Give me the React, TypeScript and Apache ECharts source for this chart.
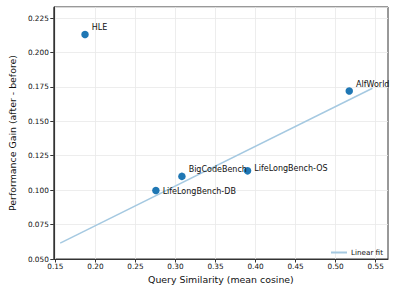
import React, { useEffect, useRef } from "react";
import * as echarts from "echarts";

const pointNames = ["HLE", "BigCodeBench", "LifeLongBench-DB", "LifeLongBench-OS", "AlfWorld"];
const pointX = [0.187, 0.308, 0.2755, 0.39, 0.517];
const pointY = [0.213, 0.110, 0.0997, 0.114, 0.172];
const labelDy = [-7, -7, 1, -2, -7];
const fitX = [0.156, 0.546];
const fitY = [0.0615, 0.174];
const xTicks = [0.15, 0.2, 0.25, 0.3, 0.35, 0.4, 0.45, 0.5, 0.55];

const FONT = "DejaVu Sans";
const TXT = "#111";

export default function App() {
  const ref = useRef<HTMLDivElement>(null);
  useEffect(() => {
    if (!ref.current) return;
    const chart = echarts.init(ref.current, null, { renderer: "svg" });
    const tickLabel = { fontFamily: FONT, fontSize: 7.3, color: TXT };
    chart.setOption({
      animation: false,
      backgroundColor: "#fff",
      grid: {
        left: 48,
        top: 7,
        width: 340,
        height: 252,
        show: true,
        borderColor: "#333",
        borderWidth: 1,
        backgroundColor: "transparent",
      },
      legend: {
        left: 326,
        top: 244,
        itemWidth: 16,
        itemHeight: 2,
        itemGap: 4,
        icon: "rect",
        textStyle: { fontFamily: FONT, fontSize: 7.2, color: TXT, padding: [0, 0, 0, -1] },
        data: [{ name: "Linear fit", itemStyle: { color: "#a5c9e1" } }],
      },
      xAxis: {
        type: "value",
        min: 0.148,
        max: 0.5654,
        name: "Query Similarity (mean cosine)",
        nameLocation: "middle",
        nameGap: 16,
        nameTextStyle: { fontFamily: FONT, fontSize: 9.4, color: TXT, verticalAlign: "top" },
        axisLine: { show: true, onZero: false, lineStyle: { color: "#333", width: 1 } },
        axisTick: { show: true, length: 3.5, customValues: xTicks, lineStyle: { color: "#333" } },
        axisLabel: {
          ...tickLabel,
          margin: 4,
          customValues: xTicks,
          formatter: (v: number) => v.toFixed(2),
        },
        splitLine: { show: true, lineStyle: { color: "#e8e8e8", width: 0.8 } },
      },
      yAxis: {
        type: "value",
        min: 0.05,
        max: 0.233,
        interval: 0.025,
        name: "Performance Gain (after - before)",
        nameLocation: "middle",
        nameGap: 31,
        nameTextStyle: { fontFamily: FONT, fontSize: 9.4, color: TXT },
        axisLine: { show: true, onZero: false, lineStyle: { color: "#333", width: 1 } },
        axisTick: { show: true, length: 3.5, lineStyle: { color: "#333" } },
        axisLabel: {
          ...tickLabel,
          margin: 5,
          showMaxLabel: false,
          formatter: (v: number) => v.toFixed(3),
        },
        splitLine: { show: true, lineStyle: { color: "#e8e8e8", width: 0.8 } },
      },
      series: [
        {
          name: "Linear fit",
          type: "line",
          data: fitX.map((x, i) => [x, fitY[i]]),
          showSymbol: false,
          symbol: "none",
          lineStyle: { color: "#a5c9e1", width: 1.5 },
          itemStyle: { color: "#a5c9e1" },
          z: 2,
        },
        {
          name: "points",
          type: "scatter",
          symbolSize: 7.5,
          itemStyle: { color: "#1f77b4", opacity: 1 },
          z: 3,
          data: pointNames.map((n, i) => ({
            name: n,
            value: [pointX[i], pointY[i]],
            label: {
              show: true,
              position: "right",
              distance: 3,
              offset: [0, labelDy[i]],
              formatter: n,
              fontFamily: FONT,
              fontSize: 8,
              color: TXT,
            },
          })),
        },
      ],
    });
    return () => chart.dispose();
  }, []);
  return <div ref={ref} style={{ width: 399, height: 294, position: "absolute", left: 0, top: 0 }} />;
}
